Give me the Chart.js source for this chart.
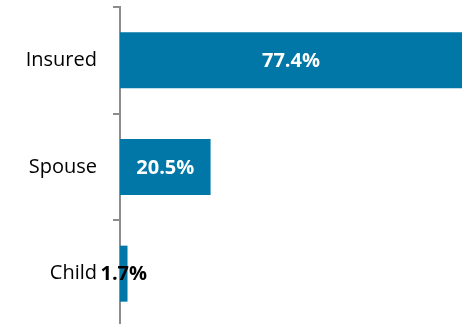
<!DOCTYPE html>
<html>
<head>
<meta charset="utf-8">
<script src="https://cdn.jsdelivr.net/npm/chart.js@4/dist/chart.umd.min.js"></script>
<style>
  html, body { margin: 0; padding: 0; background: #fff; overflow: hidden; }
  #wrap { width: 462px; height: 324px; overflow: hidden; }
  canvas { display: block; }
</style>
</head>
<body>
<div id="wrap"><canvas id="relChart" width="462" height="327"></canvas></div>
<script>
const CATEGORIES = ['Insured', 'Spouse', 'Child'];
const SHARES = [77.4, 20.5, 1.7];

const BAR_COLOR = '#0077a6';
const AXIS_COLOR = '#8c8c8c';
const FONT = "'Open Sans', 'Liberation Sans', sans-serif";

// value labels centred on each bar; dark text when the bar is too thin to hold it
const barValues = {
  id: 'barValues',
  afterDatasetsDraw(chart) {
    const { ctx } = chart;
    const meta = chart.getDatasetMeta(0);
    ctx.save();
    ctx.font = `bold 20px ${FONT}`;
    ctx.textAlign = 'center';
    ctx.textBaseline = 'middle';
    meta.data.forEach((bar, i) => {
      const text = SHARES[i].toFixed(1) + '%';
      const w = Math.abs(bar.x - bar.base);
      const fits = ctx.measureText(text).width + 10 < w;
      ctx.fillStyle = fits ? '#ffffff' : '#000000';
      ctx.fillText(text, (bar.x + bar.base) / 2, bar.y + 1);
    });
    ctx.restore();
  },
};

new Chart(document.getElementById('relChart'), {
  type: 'bar',
  data: {
    labels: CATEGORIES,
    datasets: [{
      data: SHARES,
      backgroundColor: BAR_COLOR,
      borderWidth: 0,
      categoryPercentage: 1,
      barPercentage: 0.525,
    }],
  },
  options: {
    indexAxis: 'y',
    responsive: false,
    animation: false,
    layout: { autoPadding: false, padding: { top: 7, right: 0, bottom: 0, left: 0 } },
    plugins: { legend: { display: false }, tooltip: { enabled: false } },
    scales: {
      x: { display: false, min: 0, max: 77.4 },
      y: {
        grid: { drawOnChartArea: false, drawTicks: true, tickLength: 7, color: AXIS_COLOR, lineWidth: 2 },
        border: { color: AXIS_COLOR, width: 2 },
        ticks: { color: '#000', padding: 16, font: { family: FONT, size: 20 } },
        // fixed axis width, and no extra room above/below for the labels
        afterFit: s => { s.width = 120; s.paddingTop = 0; s.paddingBottom = 0; },
      },
    },
  },
  plugins: [barValues],
});
</script>
</body>
</html>
